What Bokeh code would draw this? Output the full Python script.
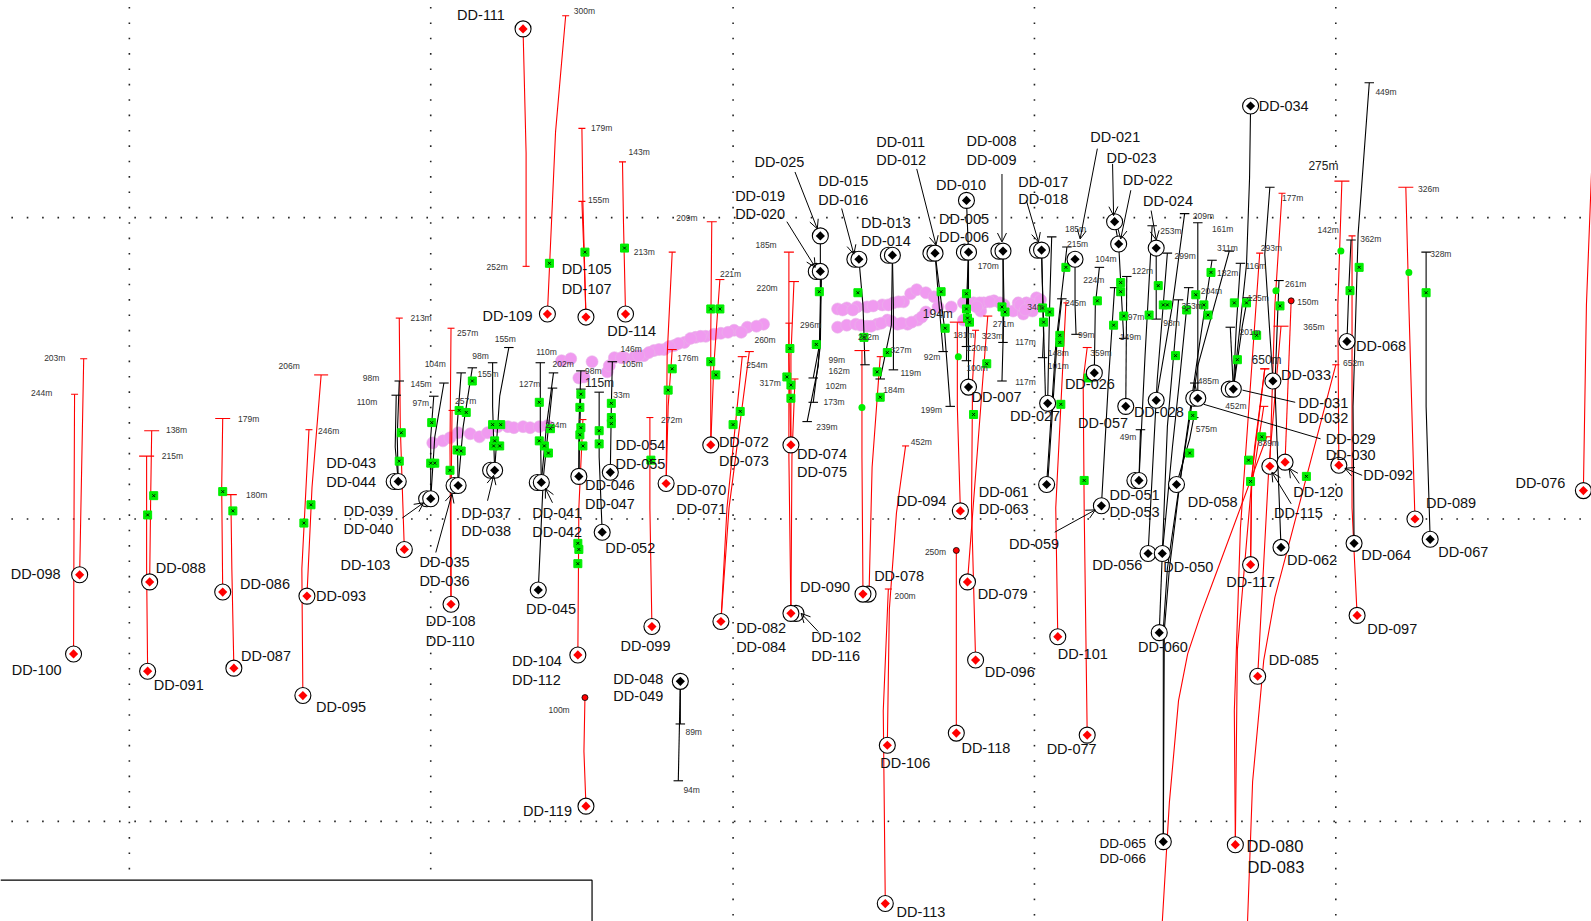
from bokeh.plotting import figure
from bokeh.models import Arrow, OpenHead, ColumnDataSource, Range1d
from bokeh.embed import file_html
from bokeh.resources import INLINE
from bokeh.core.properties import value
import numpy as np

# Values (map-style coordinates of the section)
GRID_V = [(127, 857), (424, 857), (722, 905), (1019, 905), (1316, 905)]
GRID_H = [214, 511, 809]

RED_HOLES = [
 [(78,566),(80,460),(82,353)], [(72,644),(72.5,500),(73,388)],
 [(147,573),(148,490),(149,424)], [(145,661),(144,560),(144,449)],
 [(219,583),(218,480),(219,412)], [(230,658),(228,560),(227,487)],
 [(302,587),(307,480),(316,369)], [(298,685),(297,560),(304,423)],
 [(398,541),(394,420),(393,313)], [(444,595),(443,440),(444,323)],
 [(444,595),(444,500),(445,404)], [(515,28),(518,150),(518,262)],
 [(539,309),(547,130),(557,15)], [(577,312),(574,200),(573,126)],
 [(577,312),(575,250),(573,198)], [(616,309),(614,220),(613,159)],
 [(642,617),(640,500),(640,411)], [(656,476),(657,350),(662,248)],
 [(656,476),(658,400),(662,344)], [(700,438),(700,330),(701,218)],
 [(700,438),(703,360),(709,275)], [(710,612),(716,500),(731,351)],
 [(710,612),(718,500),(738,346)], [(779,438),(777,350),(777,248)],
 [(779,438),(779,350),(782,277)], [(779,604),(777,450),(777,318)],
 [(779,604),(780,450),(783,373)], [(850,585),(849,450),(849,345)],
 [(856,584),(859,460),(867,351)], [(874,734),(876,600),(883,505),(892,439)],
 [(872,890),(870,700),(875,580)], [(946,503),(943,400),(943,317)],
 [(953,573),(968,375),(973,311)], [(961,650),(957,500),(958,375),(961,325)],
 [(1042,627),(1040,500),(1044,420),(1050,298)],
 [(1071,724),(1068,500),(1067,374),(1071,342)],
 [(1145,908),(1152,790),(1161,690),(1170,644),(1183,605),(1199,562),(1248,430)],
 [(1229,908),(1234,770),(1245,650),(1256,588),(1270,535),(1316,359)],
 [(1251,459),(1256,300),(1263,190)],
 [(1232,556),(1233,480),(1245,400)], [(1232,556),(1233,470),(1246,363)],
 [(1217,832),(1216,700),(1222,520),(1241,249)],
 [(1217,832),(1219,640),(1236,440),(1246,363)],
 [(1239,666),(1250,460),(1262,321)],
 [(1319,458),(1318,300),(1322,178)], [(1337,606),(1332,500),(1332,232)],
 [(1394,511),(1388,300),(1385,184)], [(1560,483),(1563,300),(1568,170)],
 [(569,645),(570,500),(574,413)],
]
RED_TICK_WIDTHS = [7,7,15,15,15,12,14,7,7,7,7,7,7,7,7,7,7,7,9,10,9,9,9,10,10,7,7,15,7,7,7,15,9,7,5,9,
                   7,7,7,9,9,7,9,15,15,7,15,0,7]
RED_DOT_HOLES = [
 [(577,794),(575,740),(576,687)], [(942,722),(942,542)],
 [(1266,455),(1272,296)],
]
BLACK_HOLES = [
 [(392,474),(391,430),(393,375)], [(392,474),(389,440),(390,389)],
 [(424,491),(424,430),(427,390)], [(424,491),(428,430),(437,377)],
 [(451,478),(450,420),(454,367)], [(451,478),(456,420),(465,362)],
 [(487,463),(485,400),(485,357)], [(487,463),(492,390),(501,342)],
 [(533,475),(532,420),(532,357)], [(533,475),(538,420),(545,367)],
 [(530,581),(535,470),(544,382)], [(570,469),(570,420),(572,365)],
 [(570,469),(571,420),(572,383)], [(593,524),(590,450),(590,386)],
 [(601,465),(602,400),(603,356)], [(670,671),(670,713)], [(670,671),(668,769)],
 [(809,267),(807,340),(801,372)], [(809,267),(808,340),(801,396)],
 [(808,232),(808,320),(806,360),(795,415)], [(846,255),(850,300),(852,359)],
 [(879,251),(880,300),(880,364)], [(879,251),(878,320),(867,373)],
 [(921,249),(925,300),(929,346)], [(921,249),(930,320),(936,400)],
 [(952,197),(954,248),(952,355)], [(954,248),(952,300),(952,341)],
 [(954,381),(954,248)], [(988,247),(988,300),(988,337)],
 [(988,247),(989,300),(987,375)], [(1026,246),(1028,330),(1027,352)],
 [(1026,246),(1030,397)], [(1032,397),(1034,300),(1036,233)],
 [(1031,477),(1040,340),(1051,243)], [(1032,477),(1041,340),(1046,294)],
 [(1059,255),(1059,300),(1060,329)], [(1098,218),(1102,240),(1107,333)],
 [(1078,367),(1079,300),(1083,263)], [(1109,400),(1110,272)],
 [(1085,498),(1092,374),(1098,283)], [(1122,473),(1123.5,423)],
 [(1122,473),(1128,350),(1135,222)], [(1131,545),(1140,374),(1150,249)],
 [(1139,244),(1139,314)], [(1139,394),(1155,300),(1167,210)],
 [(1145,545),(1155,440),(1162,374),(1171,283)], [(1145,545),(1150,420),(1161,295)],
 [(1142,623),(1145,545)], [(1159,477),(1172,432),(1176,411)],
 [(1180,392),(1180,219)], [(1180,392),(1177,377)],
 [(1146,829),(1146,620),(1150,560),(1160,490),(1180,360),(1211,247)],
 [(1146,829),(1147,620),(1152,560),(1163,470),(1180,350),(1194,256)],
 [(1215,383),(1212,322)], [(1215,383),(1218,320),(1222,259)],
 [(1215,383),(1224,320),(1229,293)], [(1232,104),(1231,175),(1228,260),(1215,383)],
 [(1254,375),(1246,250),(1251,184)], [(1262,539),(1256,380),(1260,276)],
 [(1327,336),(1329,280),(1331,236)],
 [(1334,535),(1333,400),(1338,230),(1349,81)], [(1409,531),(1405,400),(1405,248)],
]
GREEN_X = [
 (151,488),(145,507),(219,484),(229,503),(306,497),(299,515),(395,426),(393,454),
 (465,375),(452,404),(459,406),(425,416),(424,456),(428,456),(450,443),(454,444),
 (443,463),(485,418),(493,418),(487,434),(486,439),(492,439),(531,396),(531,434),
 (536,439),(540,446),(542,422),(572,388),(571,401),(572,421),(571,428),(574,439),
 (590,424),(590,437),(602,397),(602,411),(602,417),(641,453),(662,363),(658,384),
 (700,304),(709,304),(700,356),(705,369),(729,405),(722,418),(778,343),(775,371),
 (779,379),(779,392),(569,535),(570,541),(569,555),(541,259),(576,248),(615,244),
 (807,287),(845,288),(927,287),(952,289),(952,304),(953,313),(955,317),(987,302),
 (990,307),(1027,303),(1034,307),(1028,317),(931,323),(804,339),(851,332),(874,347),
 (864,366),(867,391),(972,358),(959,408),(1044,330),(1044,337),(1050,263),(1081,296),
 (1097,320),(1104,278),(1104,287),(1107,311),(1132,310),(1141,281),(1146,300),(1150,300),
 (1169,305),(1158,350),(1178,290),(1072,372),(1045,398),(1175,409),(1068,473),(1193,268),
 (1186,300),(1190,310),(1216,298),(1228,298),(1238,330),(1219,354),(1261,301),(1339,263),
 (1330,286),(1405,288),(1172,446),(1243,430),(1230,453),(1232,474),(1287,469),
]
GREEN_ROUND = [(944,351),(849,401),(1257,286),(1321,247),(1388,268)]
ORE_X = [426,436,443,451,463,472,480,490,500,506,515,522,531,539,553,562,583,570,575,598,605,615,
 625,634,644,654,664,674,685,695,710,723,736,752,730,825,834,843,854,864,874,884,894,
 904,912,924,937,949,966,825,834,844,854,869,880,890,897,903,912,920,949,959,969,979,
 989,998,1008,1003,1011,1021,1017,745,717,703,690,680,668,659,649,639,629,600,612,
 830,840,860,875,885,848,858,868,878,888,898,908,955,965,975,985,1005,1015,1025,1010,962]
ORE_Y = [436,434,431,426,427,430,426,420,420,421,420,421,420,419,355,353,356,372,371,366,352,352,
 351,350,345,344,340,337,332,331,328,325,322,319,327,322,320,319,321,319,315,319,319,
 315,307,302,302,315,306,304,303,302,302,300,298,297,289,285,288,292,298,298,298,296,
 300,306,309,298,298,293,306,321,327,329,331,333,338,341,344,347,350,360,352,
 305,305,301,300,297,320,321,318,316,318,317,312,300,298,297,298,300,299,295,305,302]
BLACK_COLLARS = [(952,197),(808,232),(1098,218),(1102,240),(1059,255),(1139,244),(1232,104),
 (1078,367),(954,381),(1032,397),(1109,400),(1139,394),(1031,477),(1085,498),(1159,477),
 (1131,545),(1145,545),(1142,623),(1262,539),(1334,535),(1409,531),(1327,336),(1254,375),
 (570,469),(601,465),(593,524),(530,581),(670,671),(1146,829)]
BLACK_DOUBLE = [(392,474),(424,491),(451,478),(487,463),(533,475),(808,267),(846,255),(879,251),
 (921,249),(954,248),(988,247),(1026,246),(1122,473),(1180,392),(1215,383)]
RED_COLLARS = [(78,566),(72,644),(147,573),(145,661),(219,583),(230,658),(302,587),(298,685),
 (398,541),(444,595),(515,28),(539,309),(577,312),(616,309),(642,617),(656,476),(700,438),
 (710,612),(779,438),(874,734),(872,890),(946,503),(942,722),(953,573),(961,650),(1042,627),
 (1071,724),(1232,556),(1239,666),(1217,832),(1251,459),(1266,455),(1319,458),(1337,606),
 (1394,511),(1560,483),(569,645),(577,794)]
RED_DOUBLE = [(850,585),(779,604)]
LEADERS = [(396,510,417,495),(429,544,445,486),(480,493,486,468),(544,495,537,481),
 (783,169,805,225),(775,218,803,263),(829,205,841,250),(903,166,922,241),(987,171,987,238),
 (1011,197,1023,238),(1081,146,1064,235),(1096,161,1097,212),(1114,187,1104,235),
 (1134,207,1139,236),(1280,476,1270,461),
 (1272,496,1253,465),(1342,468,1325,461),(1039,524,1079,502),(806,622,789,604)]
PLAIN_LEADERS = [(1276,396,1224,384),(1301,432,1186,398)]
HOLE_LABELS = [("DD-111",451,15),("DD-105",554,266),("DD-107",554,285),("DD-109",476,312),
 ("DD-114",599,327),("DD-025",744,160),("DD-019",725,194),("DD-020",725,211),("DD-015",807,179),
 ("DD-016",807,198),("DD-013",849,220),("DD-014",849,238),("DD-011",864,140),("DD-012",864,158),
 ("DD-008",953,139),("DD-009",953,158),("DD-010",923,183),("DD-005",926,216),("DD-006",926,234),
 ("DD-017",1004,180),("DD-018",1004,197),("DD-021",1075,136),("DD-023",1091,156),("DD-022",1107,178),
 ("DD-024",1127,199),("DD-034",1241,105),("DD-033",1263,370),("DD-068",1337,341),("DD-026",1050,379),
 ("DD-057",1063,417),("DD-028",1118,407),("DD-007",958,392),("DD-027",996,410),("DD-031",1280,398),
 ("DD-032",1280,412),("DD-029",1307,433),("DD-030",1307,449),("DD-092",1344,469),("DD-120",1275,485),
 ("DD-115",1256,506),("DD-089",1406,496),("DD-067",1418,545),("DD-062",1269,552),("DD-064",1342,547),
 ("DD-076",1494,477),("DD-097",1348,620),("DD-117",1209,574),("DD-085",1251,651),("DD-051",1094,488),
 ("DD-053",1094,505),("DD-058",1171,495),("DD-061",965,485),("DD-063",965,502),("DD-059",995,537),
 ("DD-056",1077,557),("DD-050",1147,559),("DD-060",1122,638),("DD-101",1043,645),("DD-079",964,586),
 ("DD-096",971,663),("DD-118",948,738),("DD-077",1032,739),("DD-106",868,752),("DD-078",862,568),
 ("DD-094",884,494),("DD-090",789,579),("DD-074",786,448),("DD-075",786,466),("DD-072",709,436),
 ("DD-073",709,455),("DD-070",667,483),("DD-071",667,502),("DD-054",607,439),("DD-055",607,458),
 ("DD-046",577,478),("DD-047",577,497),("DD-052",597,541),("DD-041",525,506),("DD-042",525,525),
 ("DD-043",322,457),("DD-044",322,476),("DD-039",339,504),("DD-040",339,522),("DD-037",455,506),
 ("DD-038",455,524),("DD-035",414,554),("DD-036",414,573),("DD-103",336,557),("DD-108",420,613),
 ("DD-110",420,632),("DD-045",519,601),("DD-099",612,637),("DD-104",505,652),("DD-112",505,671),
 ("DD-048",605,670),("DD-049",605,686),("DD-082",726,619),("DD-084",726,638),("DD-102",800,628),
 ("DD-116",800,647),("DD-098",11,566),("DD-100",12,661),("DD-088",154,560),("DD-091",152,676),
 ("DD-086",237,576),("DD-087",238,647),("DD-093",312,588),("DD-095",312,697),("DD-119",516,800),
 ("DD-113",884,899)]
SMALL_HOLE_LABELS = [("DD-065",1084,832),("DD-066",1084,847)]
LARGE_HOLE_LABELS = [("DD-080",1229,834),("DD-083",1230,855)]
LENGTH_LABELS = [("203m",44,353),("244m",31,388),("138m",164,424),("215m",160,450),("179m",235,413),
 ("180m",243,488),("206m",275,361),("246m",314,425),("213m",405,314),("98m",358,373),("110m",352,397),
 ("104m",419,359),("145m",405,379),("97m",407,398),("257m",451,329),("98m",466,351),("155m",488,335),
 ("155m",471,369),("257m",449,396),("110m",529,347),("202m",545,359),("127m",512,379),("224m",538,419),
 ("98m",577,366),("146m",612,344),("105m",613,359),("33m",605,390),("272m",652,414),("176m",668,353),
 ("213m",625,249),("209m",667,215),("221m",710,271),("185m",745,242),("220m",746,284),("260m",744,336),
 ("254m",736,360),("317m",749,378),("296m",789,321),("99m",817,355),("162m",817,366),("102m",814,381),
 ("173m",812,397),("239m",805,421),("252m",480,264),("300m",566,11),("179m",583,127),("155m",580,198),
 ("143m",620,150),("222m",846,333),("327m",878,345),("119m",888,368),("184m",871,385),("452m",898,436),
 ("200m",882,588),("250m",912,545),("181m",940,331),("92m",911,352),("199m",908,405),("120m",953,343),
 ("100m",953,363),("170m",964,263),("271m",979,320),("323m",968,332),("117m",1001,338),("117m",1001,377),
 ("34m",1013,303),("148m",1033,348),("101m",1033,361),("185m",1050,226),("215m",1052,241),("245m",1050,299),
 ("99m",1063,331),("224m",1068,276),("104m",1080,256),("359m",1075,348),("97m",1112,313),("149m",1104,333),
 ("122m",1116,268),("253m",1144,228),("299m",1158,253),("98m",1147,319),("49m",1104,431),("209m",1176,213),
 ("161m",1195,226),("311m",1200,245),("182m",1200,270),("204m",1184,287),("353m",1165,302),("116m",1228,263),
 ("125m",1230,294),("201m",1222,328),("293m",1243,245),("261m",1267,280),("150m",1279,298),("365m",1285,323),
 ("177m",1264,196),("485m",1181,376),("452m",1208,401),("575m",1179,423),("839m",1240,437),("142m",1299,227),
 ("362m",1341,236),("449m",1356,91),("326m",1398,187),("328m",1410,251),("652m",1324,358),("89m",676,722),
 ("94m",674,779),("100m",541,700)]
BIG_LENGTH_LABELS = [("115m",577,378),("194m",910,310),("650m",1234,355),("275m",1290,164)]
BOX_X = [0, 583, 583]
BOX_Y = [867, 867, 908]

SCALE = 1568 / 1591
W, H = 1591, 921
p = figure(width=W, height=H, output_backend="svg", toolbar_location=None,
           x_range=Range1d(0, W*SCALE), y_range=Range1d(H*SCALE, 0),
           min_border=0, outline_line_color=None, background_fill_color="white")
p.xaxis.visible = False
p.yaxis.visible = False
p.grid.visible = False

# dotted section grid
gx, gy = [], []
for x, end in GRID_V:
    ys = np.arange(7.2, end, 15.15)
    gx += [x]*len(ys); gy += list(ys)
for y in GRID_H:
    xs = np.arange(11.5, 1568, 15.15)
    gx += list(xs); gy += [y]*len(xs)
p.scatter(gx, gy, marker="square", size=1.6, color="#222222", line_width=0)

p.line(BOX_X, BOX_Y, color="black", line_width=1.2)
p.scatter(ORE_X, ORE_Y, marker="circle", size=12, fill_color="#f09af0", line_color="#e8b4e8", line_width=0.6)

def unzip(traces):
    return [[q[0] for q in t] for t in traces], [[q[1] for q in t] for t in traces]

rx, ry = unzip(RED_HOLES + RED_DOT_HOLES)
bx, by = unzip(BLACK_HOLES)
p.multi_line(rx, ry, line_color="red", line_width=1.1)
p.multi_line(bx, by, line_color="black", line_width=1.1)
p.scatter([t[-1][0] for t in RED_HOLES], [t[-1][1] for t in RED_HOLES], marker="dash", size=RED_TICK_WIDTHS,
          line_color="red", line_width=1.1)
p.scatter([t[-1][0] for t in BLACK_HOLES], [t[-1][1] for t in BLACK_HOLES], marker="dash", size=9.5,
          line_color="black", line_width=1.1)
p.scatter([t[-1][0] for t in RED_DOT_HOLES], [t[-1][1] for t in RED_DOT_HOLES], marker="circle", size=6,
          fill_color="red", line_color="black", line_width=0.8)

for x0, y0, x1, y1 in LEADERS:
    p.add_layout(Arrow(x_start=x0, y_start=y0, x_end=x1, y_end=y1, line_width=1, line_color="black",
                       end=OpenHead(size=9, line_width=1, line_color="black")))
p.multi_line([[l[0], l[2]] for l in PLAIN_LEADERS], [[l[1], l[3]] for l in PLAIN_LEADERS],
             line_color="black", line_width=1)

p.scatter([c[0] for c in GREEN_X], [c[1] for c in GREEN_X], marker="square", size=8, color="#00ee00", line_width=1)
p.scatter([c[0] for c in GREEN_X], [c[1] for c in GREEN_X], marker="x", size=4, line_color="black", line_width=0.9)
p.scatter([c[0] for c in GREEN_ROUND], [c[1] for c in GREEN_ROUND], marker="circle", size=7, color="#00ee00", line_width=0)

def collars(pts, dbl, col, off):
    p.scatter([c[0]+off for c in dbl], [c[1] for c in dbl], marker="circle", size=16, fill_color="white",
              line_color="black", line_width=1.1)
    all_pts = pts + dbl
    p.scatter([c[0] for c in all_pts], [c[1] for c in all_pts], marker="circle", size=16, fill_color="white",
              line_color="black", line_width=1.1)
    p.scatter([c[0] for c in all_pts], [c[1] for c in all_pts], marker="square", angle=np.pi/4, size=6.5, color=col, line_width=0)

collars(BLACK_COLLARS, BLACK_DOUBLE, "black", -4)
collars(RED_COLLARS, RED_DOUBLE, "red", 5)

def labels(items, size, color="#111111"):
    src = ColumnDataSource(dict(t=[i[0] for i in items], x=[i[1] for i in items], y=[i[2] for i in items]))
    p.text("x", "y", text="t", source=src, text_font=value("Liberation Sans"), text_font_size=size,
           text_align="left", text_baseline="middle", text_color=color, x_offset=-1, y_offset=-1)

labels(LENGTH_LABELS, "8.5px", "#333333")
labels(BIG_LENGTH_LABELS, "12px", "#222222")
labels(HOLE_LABELS, "14.5px")
labels(SMALL_HOLE_LABELS, "13.5px")
labels(LARGE_HOLE_LABELS, "16.5px")

open("out.html", "w").write(file_html(p, INLINE))
